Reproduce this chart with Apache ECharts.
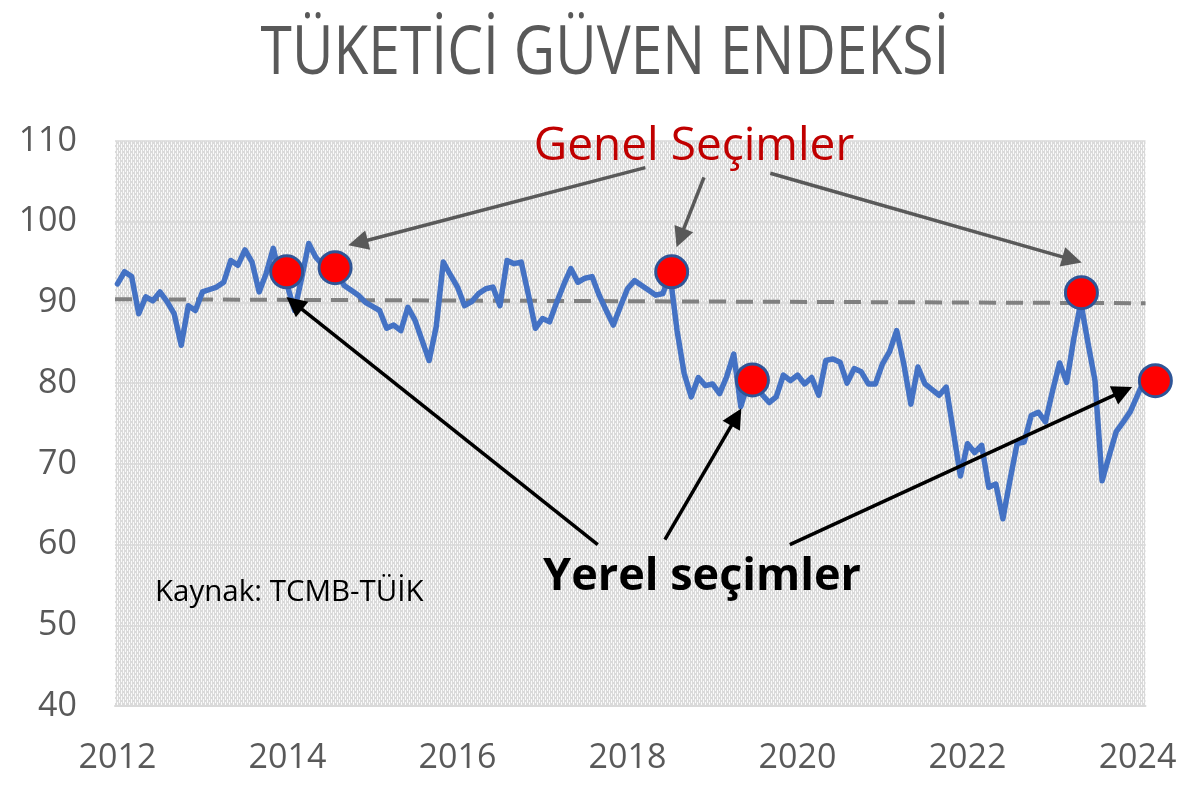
<!DOCTYPE html>
<html>
<head>
<meta charset="utf-8">
<title>Tüketici Güven Endeksi</title>
<script src="https://cdn.jsdelivr.net/npm/echarts@6.0.0/dist/echarts.min.js"></script>
<style>
  html, body { margin: 0; padding: 0; background: #fff; }
  #main { width: 1200px; height: 795px; }
</style>
</head>
<body>
<div id="main"></div>
<script>
// aylik endeks, Ocak 2012 - Mart 2024
var baslangicYili = 2012;
var endeks = [
	92.3, 93.8, 93.2, 88.6, 90.7, 90.2, 91.3, 90.1, 88.6, 84.7, 89.6, 89.0,
	91.3, 91.6, 91.9, 92.5, 95.2, 94.6, 96.5, 95.0, 91.3, 93.6, 96.7, 93.0,
	92.0, 89.0, 93.0, 97.3, 95.6, 94.6, 94.2, 93.6, 92.1, 91.5, 90.9, 90.0,
	89.5, 89.0, 86.8, 87.2, 86.5, 89.4, 87.8, 85.3, 82.8, 87.0, 95.0, 93.4,
	91.9, 89.6, 90.1, 91.1, 91.7, 91.9, 89.6, 95.2, 94.8, 95.0, 91.0, 86.8,
	88.0, 87.6, 90.0, 92.2, 94.2, 92.5, 93.0, 93.2, 90.9, 89.0, 87.2, 89.5,
	91.7, 92.7, 92.1, 91.5, 90.9, 91.1, 93.5, 86.5, 81.2, 78.3, 80.7, 79.7,
	79.9, 78.7, 80.8, 83.6, 77.1, 80.0, 80.5, 78.6, 77.6, 78.3, 81.0, 80.3,
	81.0, 79.9, 80.7, 78.5, 82.8, 83.0, 82.6, 80.0, 81.8, 81.4, 79.9, 79.9,
	82.4, 83.9, 86.5, 82.4, 77.4, 82.0, 79.9, 79.2, 78.5, 79.5, 74.0, 68.5,
	72.5, 71.4, 72.3, 67.1, 67.5, 63.2, 68.0, 72.5, 72.7, 76.0, 76.4, 75.2,
	79.0, 82.5, 80.1, 85.5, 90.0, 85.0, 80.3, 67.9, 71.0, 74.0, 75.2, 76.5,
	78.5, 80.5, 79.0
];
var yilEtiketleri = [2012, 2014, 2016, 2018, 2020, 2022, 2024];
var ortalamaCizgi = [90.4, 89.9];   // kesikli cizginin sol ve sag ucu

// secim isaretleri [yil, deger]
var secimNoktalari = [
	[2013.99, 93.8], [2014.56, 94.3], [2018.52, 93.8],
	[2019.47, 80.4], [2023.34, 91.2], [2024.21, 80.3]
];
// oklar: [baslangic, bitis]
var genelOklar = [
	[[2018.21, 106.7], [2014.83, 97.4]],
	[[2018.90, 105.5], [2018.62, 98.0]],
	[[2019.68, 106.0], [2023.23, 95.3]]
];
var yerelOklar = [
	[[2017.65, 60.0], [2014.08, 89.9]],
	[[2018.44, 60.6], [2019.28, 75.8]],
	[[2019.91, 60.0], [2023.83, 79.0]]
];

var xMin = 2011.971, xMax = 2024.094;
var yaziTipi = '"Open Sans", "Noto Sans", sans-serif';

// Excel'deki kesikli dikey desen
var desen = document.createElement('canvas');
desen.width = 4; desen.height = 6;
var dc = desen.getContext('2d');
dc.fillStyle = '#dadada';
dc.fillRect(0, 0, 4, 6);
dc.fillStyle = '#fafafa';
dc.fillRect(1, 0, 1, 4);
dc.fillRect(3, 3, 1, 4);
dc.fillRect(3, 0, 1, 1);

var seri = endeks.map(function (v, i) {
	return [baslangicYili + i / 12, v];
});

function okVerisi(liste) {
	return liste.map(function (ok) {
		return [{ coord: ok[0] }, { coord: ok[1] }];
	});
}

function okSerisi(liste, renk) {
	return {
		type: 'line',
		data: [],
		silent: true,
		markLine: {
			silent: true,
			animation: false,
			symbol: ['none', 'triangle'],
			symbolSize: 20,
			label: { show: false },
			lineStyle: { color: renk, width: 3.5, type: 'solid' },
			emphasis: { disabled: true },
			data: okVerisi(liste)
		},
		z: 6
	};
}

var myChart = echarts.init(document.getElementById('main'));
var option = {
	animation: false,
	backgroundColor: '#ffffff',
	textStyle: { fontFamily: yaziTipi },
	grid: {
		left: 115,
		right: 54.5,
		top: 141,
		bottom: 89,
		show: true,
		borderWidth: 0,
		backgroundColor: { image: desen, repeat: 'repeat' },
		outerBoundsMode: 'none'
	},
	xAxis: {
		type: 'value',
		min: xMin,
		max: xMax,
		axisLine: { show: true, lineStyle: { color: '#d9d9d9', width: 2 } },
		axisTick: { show: false },
		splitLine: { show: false },
		axisLabel: {
			customValues: yilEtiketleri,
			formatter: function (v) { return String(Math.round(v)); },
			color: '#595959',
			fontSize: 34,
			margin: 35,
			fontFamily: yaziTipi
		}
	},
	yAxis: {
		type: 'value',
		min: 40,
		max: 110,
		interval: 10,
		axisLine: { show: false },
		axisTick: { show: false },
		splitLine: { lineStyle: { color: '#d9d9d9', width: 1.5 } },
		axisLabel: {
			color: '#595959',
			fontSize: 34,
			margin: 38,
			fontFamily: yaziTipi
		}
	},
	series: [
		{
			name: 'ortalama',
			type: 'line',
			data: [[xMin, ortalamaCizgi[0]], [xMax, ortalamaCizgi[1]]],
			showSymbol: false,
			silent: true,
			lineStyle: { color: '#808080', width: 4, type: [17, 10] },
			z: 2
		},
		{
			name: 'Tüketici Güven Endeksi',
			type: 'line',
			data: seri,
			showSymbol: false,
			clip: false,
			lineStyle: { color: '#4472C4', width: 5.5, join: 'round', cap: 'round' },
			z: 3
		},
		okSerisi(genelOklar, '#595959'),
		okSerisi(yerelOklar, '#000000'),
		{
			name: 'seçimler',
			type: 'scatter',
			data: secimNoktalari,
			clip: false,
			symbolSize: 32,
			itemStyle: { color: '#ff0000', borderColor: '#2f5597', borderWidth: 3, opacity: 1 },
			z: 7
		}
	],
	graphic: [
		{
			type: 'text',
			x: 605,
			y: 55,
			scaleX: 0.85,
			style: {
				text: 'TÜKETİCİ GÜVEN ENDEKSİ',
				fill: '#595959',
				font: '67px ' + yaziTipi,
				textAlign: 'center',
				textVerticalAlign: 'middle'
			}
		},
		{
			type: 'text',
			x: 694,
			y: 147,
			z: 10,
			style: {
				text: 'Genel Seçimler',
				fill: '#c00000',
				font: '46px ' + yaziTipi,
				textAlign: 'center',
				textVerticalAlign: 'middle'
			}
		},
		{
			type: 'text',
			x: 702,
			y: 577,
			z: 10,
			style: {
				text: 'Yerel seçimler',
				fill: '#000000',
				font: 'bold 45px ' + yaziTipi,
				textAlign: 'center',
				textVerticalAlign: 'middle'
			}
		},
		{
			type: 'text',
			x: 155,
			y: 593,
			z: 10,
			style: {
				text: 'Kaynak: TCMB-TÜİK',
				fill: '#000000',
				font: '29.5px ' + yaziTipi,
				textAlign: 'left',
				textVerticalAlign: 'middle'
			}
		}
	]
};

if (option && typeof option === "object") {
	myChart.setOption(option, true);
}
</script>
</body>
</html>
